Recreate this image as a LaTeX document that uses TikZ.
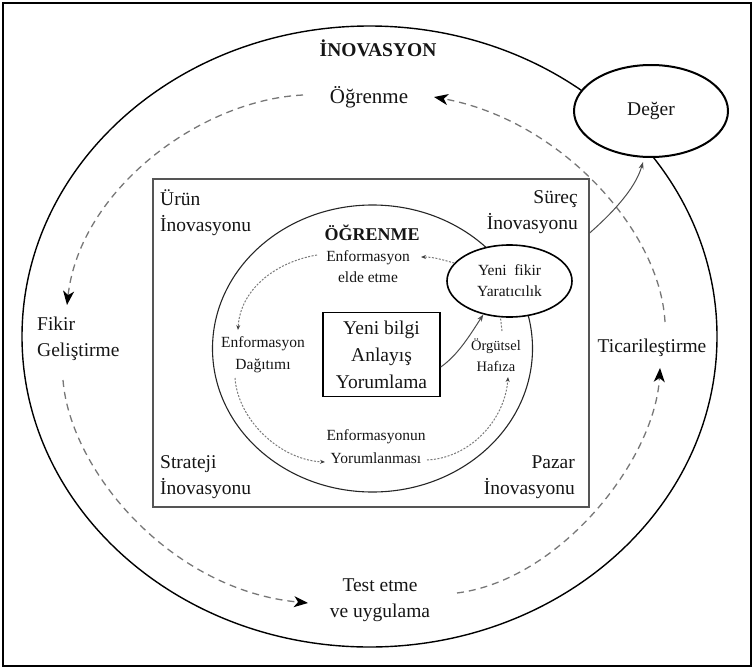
\documentclass[tikz,border=0pt]{standalone}
\usepackage{fontspec}
\setmainfont{Liberation Serif}
\usetikzlibrary{arrows.meta,shapes.geometric}
\definecolor{ink}{HTML}{151515}
\definecolor{dashgray}{HTML}{777777}
\definecolor{dotgray}{HTML}{7A7A7A}
\definecolor{boxgray}{HTML}{555555}

\begin{document}
\begin{tikzpicture}[x=1pt,y=-1pt,
  every node/.style={text=ink, inner sep=0pt},
  big/.style={font=\fontsize{19.5}{26}\selectfont},
  small/.style={font=\fontsize{15.5}{21}\selectfont},
  ring/.style={draw, ellipse, inner sep=0pt},
  outerflow/.style={draw=dashgray, line width=1.3pt, dash pattern=on 7pt off 5pt,
    -{Stealth[black,length=14pt,width=11pt,inset=4pt]}},
  innerflow/.style={draw=dotgray, line width=1pt, dash pattern=on 2pt off 1.5pt,
    -{Stealth[black!75,length=5pt,width=4pt]}},
  solidflow/.style={draw=black!70, line width=1pt, -{Stealth[length=7pt,width=5pt]}},
]
\useasboundingbox (0,0) rectangle (754,669);
\draw[line width=1.6pt] (3,3) rectangle (751,666);

% outer cycle
\node[ring, line width=1.4pt, minimum width=695pt, minimum height=621pt] (outer) at (369.5,336.5) {};
\node[font=\bfseries\fontsize{19.5}{26}\selectfont] (inov) at (378,48) {İNOVASYON};
\node[font=\fontsize{21}{26}\selectfont] (ogr) at (369,97) {Öğrenme};
\node[big, align=left, anchor=west] (fikir) at (37,339) {Fikir\\Geliştirme};
\node[big, align=center] (test) at (380,600) {Test etme\\ve uygulama};
\node[big] (tic) at (652,348) {Ticarileştirme};
\node[ring, line width=2pt, fill=white, minimum width=154pt, minimum height=92pt, big] (deger) at (651,111) {Değer};

% innovation types box
\node[draw=boxgray, line width=1.3pt, minimum width=436pt, minimum height=328pt] (box) at (371,343) {};
\node[big, align=left, anchor=west] (urun) at (160,212.5) {Ürün\\İnovasyonu};
\node[big, align=right, anchor=east] (surec) at (578,212.5) {Süreç\\İnovasyonu};
\node[big, align=left, anchor=west] (strateji) at (160,477) {Strateji\\İnovasyonu};
\node[big, align=right, anchor=east] (pazar) at (575,477) {Pazar\\İnovasyonu};

% learning cycle
\node[ring, draw=black!85, line width=1.1pt, minimum width=320pt, minimum height=287pt] (learn) at (372.5,348.5) {};
\node[ring, line width=1.6pt, fill=white, minimum width=125pt, minimum height=72pt, small, align=center] (yf) at (509.5,281) {Yeni\ \ fikir\\Yaratıcılık};
\node[draw, line width=1.5pt, minimum width=117pt, minimum height=84pt, align=center,
  font=\fontsize{19.5}{27}\selectfont] (cbox) at (381.5,354.5) {Yeni bilgi\\Anlayış\\Yorumlama};
\node[font=\bfseries\fontsize{18}{22}\selectfont] (ogr2) at (372,233) {ÖĞRENME};
\node[small, align=center] (enf1) at (368,267) {Enformasyon\\elde etme};
\node[small, align=center, font=\fontsize{15.5}{22}\selectfont] (enf2) at (263,355) {Enformasyon\\Dağıtımı};
\node[align=center, font=\fontsize{14.5}{21}\selectfont] (org) at (496,355) {Örgütsel\\Hafıza};
\node[align=center, font=\fontsize{15.5}{23}\selectfont] (enf3) at (376,447) {Enformasyonun\\Yorumlanması};

% outer flow
\draw[outerflow] ([shift={(13,-26)}]tic.center) .. controls (660,230) and (560,120) .. ([shift={(65,0)}]ogr.center);
\draw[outerflow] ([shift={(-66,-2)}]ogr.center) .. controls (200,100) and (80,190) .. ([shift={(30,-34)}]fikir.west);
\draw[outerflow] ([shift={(26,41)}]fikir.west) .. controls (70,470) and (170,590) .. ([shift={(-72,3)}]test.center);
\draw[outerflow] ([shift={(77,-7)}]test.center) .. controls (560,580) and (655,460) .. ([shift={(8,20)}]tic.center);

% inner flow
\draw[innerflow] (yf.162) .. controls (440,259) and (433,257) .. ([shift={(53,-10)}]enf1.center);
\draw[innerflow] ([shift={(-51,-12)}]enf1.center) .. controls (275,262) and (240,290) .. ([shift={(-25,-25)}]enf2.center);
\draw[innerflow] ([shift={(-28,23)}]enf2.center) .. controls (238,420) and (280,460) .. ([shift={(-51,15)}]enf3.center);
\draw[innerflow] ([shift={(51,13)}]enf3.center) .. controls (470,458) and (505,420) .. ([shift={(12,22)}]org.center);
\draw[draw=dotgray, line width=1pt, dash pattern=on 2pt off 1.5pt] ([shift={(6,-24)}]org.center) -- ([xshift=-9pt]yf.south);

% solid links
\draw[solidflow] ([yshift=-12.5pt]cbox.east) .. controls (458,355) and (470,335) .. (yf.232);
\draw[solidflow] ([yshift=110pt]box.east) .. controls (610,215) and (635,190) .. ([shift={(-8,51)}]deger.center);
\end{tikzpicture}
\end{document}
